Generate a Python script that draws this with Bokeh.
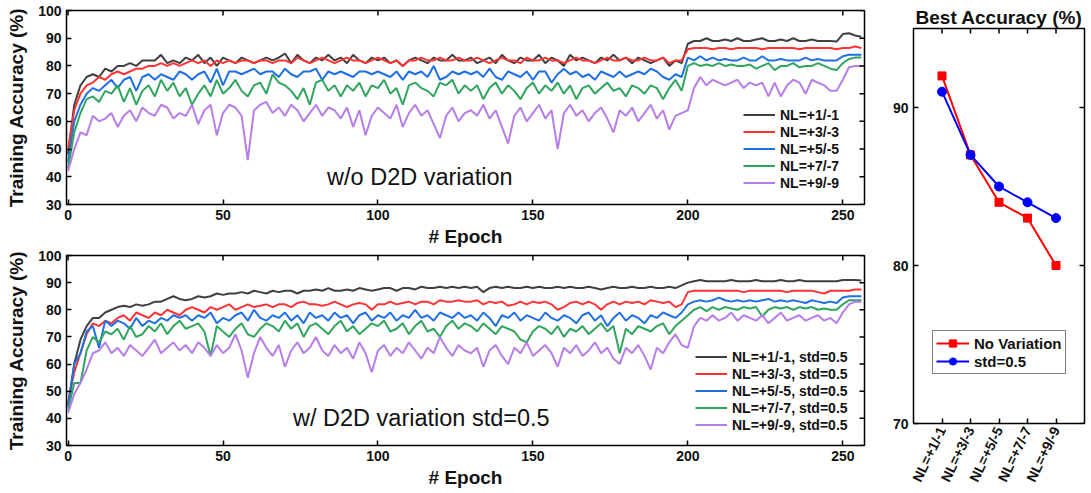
from bokeh.plotting import figure
from bokeh.models import Label, Range1d
from bokeh.layouts import row, column
from bokeh.embed import file_html
from bokeh.resources import INLINE

# ---------------- data ----------------
EPOCHS = list(range(0, 257, 2))

# w/o D2D variation
T1 = [48, 66, 73, 76, 77, 76, 79, 78, 80, 80,
      81, 80, 82, 82, 82, 84, 81, 82, 81, 83,
      82, 84, 81, 83, 80, 83, 82, 81, 83, 82,
      81, 82, 83, 82, 83, 84.5, 81, 84, 82, 81,
      83, 82, 84, 82, 83, 81, 84, 82, 81, 83,
      82, 83, 81, 82, 80, 82, 83, 82, 81, 83,
      82, 82, 84, 82, 82, 83, 81, 82, 83, 81,
      84, 82, 81, 83, 82, 82, 84, 81, 83, 82,
      80, 84, 82, 83, 82, 81, 83, 82, 84, 82,
      83, 81, 83, 82, 81, 82, 83, 80, 82, 81,
      88, 89, 89, 90, 89, 89, 89.5, 89, 90, 89,
      89, 89.5, 90, 89, 89, 89.5, 89, 90, 89, 89,
      89.5, 89, 89, 89, 88.8, 91.5, 91.8, 91, 90.5]
T3 = [50, 64, 70, 73, 74, 76, 75, 77, 78, 77,
      78, 79, 79, 80, 80, 81, 80, 81, 80, 81,
      82, 81, 82, 80, 82, 81, 82, 81, 82, 82,
      81, 82, 82, 81, 82, 82, 81, 83, 82, 81,
      82, 83, 82, 81, 82, 83, 82, 82, 81, 82,
      83, 82, 81, 82, 80, 82, 82, 83, 82, 82,
      83, 82, 82, 83, 82, 82, 83, 82, 81, 82,
      83, 82, 82, 81, 83, 82, 82, 83, 82, 82,
      81, 82, 83, 82, 82, 81, 82, 83, 82, 82,
      83, 82, 82, 83, 82, 82, 83, 81, 82, 82,
      86, 86.5, 86.5, 86.5, 86, 86.5, 86.5, 86, 86.5, 86.5,
      86.5, 86.5, 86, 86.5, 86.5, 86.5, 86.5, 86.5, 86, 86.5,
      86.5, 86.5, 86.5, 86.5, 86, 86.5, 86.5, 87, 86.5]
T5 = [45, 60, 66, 70, 72, 71, 73, 75, 72, 75,
      76, 71, 76, 77, 75, 77, 76, 75, 78, 77,
      75, 77, 78, 74, 79, 73, 78, 78, 77, 78,
      79, 77, 78, 78, 76, 79, 77, 76, 78, 78,
      79, 75, 78, 77, 78, 77, 76, 78, 78, 77,
      78, 77, 76, 78, 75, 78, 77, 78, 76, 80,
      75, 76, 78, 77, 78, 77, 78, 76, 79, 76,
      75, 78, 77, 76, 78, 75, 78, 78, 74, 77,
      79, 77, 78, 76, 77, 75, 78, 77, 76, 78,
      76, 77, 78, 77, 79, 78, 76, 75, 77, 76,
      83, 82, 83.5, 82, 83, 82, 82.5, 82, 82, 83,
      82, 82, 83.5, 82, 82, 82.5, 82, 82, 82, 83,
      82, 82.5, 82, 82, 82, 83.5, 84, 84, 84]
T7 = [43, 56, 63, 68, 69, 67, 71, 70, 73, 67,
      72, 66, 71, 73, 69, 75, 71, 74, 69, 72,
      66, 70, 73, 69, 75, 70, 72, 75, 71, 69,
      73, 74, 70, 77, 74, 73, 71, 68, 72, 66,
      74, 75, 71, 73, 69, 73, 71, 74, 69, 73,
      72, 75, 70, 72, 66, 73, 74, 72, 71, 69,
      74, 73, 75, 70, 73, 71, 73, 68, 72, 74,
      70, 73, 71, 68, 72, 74, 70, 73, 71, 74,
      70, 73, 68, 72, 73, 70, 72, 74, 71, 72,
      69, 73, 72, 70, 73, 72, 68, 72, 75, 71,
      80, 81, 80, 80.5, 80, 81, 80, 80.5, 80, 80,
      80.5, 79, 80, 81, 78.5, 80, 80, 81, 79.5, 80,
      80, 81, 80, 79, 78.5, 81, 82.5, 83, 83]
T9 = [42, 50, 56, 55, 62, 60, 61, 63, 58, 62,
      64, 60, 65, 63, 62, 66, 65, 61, 63, 62,
      66, 59, 64, 66, 55, 63, 66, 65, 62, 46,
      64, 66, 67, 63, 65, 62, 66, 64, 60, 63,
      66, 62, 65, 64, 61, 65, 58, 64, 55, 62,
      65, 63, 61, 66, 58, 63, 66, 62, 64, 59,
      54, 62, 65, 60, 63, 64, 62, 66, 61, 64,
      58, 52, 62, 65, 60, 63, 66, 61, 64, 50,
      63, 66, 62, 64, 60, 63, 65, 61, 56, 64,
      62, 65, 60, 63, 66, 61, 64, 57, 62, 63,
      64, 72, 76, 73, 75, 74, 73, 74, 75, 72,
      74, 73, 74, 69, 74, 69, 73, 75, 74, 70,
      75, 74, 73, 71, 71, 75, 79.5, 80, 80]

# w/ D2D variation std=0.5
B1 = [45, 60, 69, 74, 77, 77, 79, 80, 81, 81.5,
      81, 82, 81.5, 82, 83, 83, 84, 85, 84, 83.5,
      84, 85, 84.5, 85, 86, 85.5, 86, 86, 86.5, 86,
      87, 86.5, 86, 87, 86.5, 87, 87, 86, 87, 87,
      87.5, 87, 88, 87, 87, 87.5, 87, 88, 87.5, 87,
      87.5, 88, 88, 87, 88, 88, 87.5, 88.5, 88, 88,
      88.5, 88, 88.5, 88, 88.5, 88, 88.5, 86.5, 88, 88.5,
      88, 88.5, 88, 88, 88.5, 88, 88.5, 88, 88, 88.5,
      88, 88.5, 88, 88, 88.5, 88, 87.5, 88, 88.5, 88,
      88, 88.5, 88, 88, 88.5, 88, 88, 88.5, 88, 89,
      90, 90.5, 91, 90.5, 90.5, 90.5, 90.5, 91, 90.5, 90.5,
      90.5, 91, 90.5, 90.5, 90.5, 91, 90.5, 90.5, 91, 90.5,
      90.5, 90.5, 90.5, 90.5, 90.5, 91, 91, 91, 90.8]
B3 = [46, 57, 64, 71, 75, 74, 76, 75, 77, 78,
      76, 79, 78, 77, 79, 78, 80, 79, 78, 80,
      81, 80, 79, 81, 80, 81, 82, 80, 81, 82,
      81, 81.5, 82, 81, 82, 82, 81, 82.5, 83, 82,
      82, 81.5, 82, 83, 82, 81, 82, 82.5, 82, 80,
      82, 82, 83, 82, 82.5, 83, 82, 83, 83, 82,
      83.5, 83, 83, 83.5, 83, 83, 83.5, 82, 83, 82.5,
      83, 81.5, 82, 83, 82, 83, 82.5, 83, 82, 80,
      81, 82.5, 83, 82, 83, 82, 80, 82, 83, 82,
      83, 82.5, 83, 82, 83.5, 83, 82.5, 83, 81, 82,
      86.5, 87, 87, 87, 87, 87, 87, 87, 87, 86.5,
      87, 87, 87, 87, 87, 87, 86.5, 87, 87, 87,
      87, 86.5, 86, 87, 87, 87, 87, 87.5, 87.5]
B5 = [44, 60, 64, 72, 74, 66, 76, 74, 76, 75,
      73, 77, 74, 76, 75, 77, 76, 78, 77, 78,
      76, 78, 77, 79, 75, 77, 76, 78, 79, 76,
      80, 77, 76, 78, 77, 79, 76, 78, 75, 79,
      77, 78, 76, 79, 77, 78, 75, 78, 79, 76,
      78, 77, 79, 76, 78, 77, 80, 77, 78, 76,
      79, 78, 77, 79, 77, 78, 76, 79, 77, 74,
      78, 77, 79, 76, 78, 77, 76, 79, 77, 76,
      78, 77, 75, 78, 79, 76, 78, 74, 77, 79,
      76, 78, 77, 75, 78, 77, 79, 78, 77, 79,
      82, 83, 83.5, 83, 83.5, 84.5, 83.5, 83, 83.5, 83,
      83.5, 83, 83.5, 84, 83, 83.5, 83, 83.5, 83, 82.5,
      83.5, 83, 82.5, 83, 82.5, 84.5, 85, 85, 85]
B7 = [43, 53, 53, 65, 70, 68, 72, 71, 73, 69,
      74, 70, 71, 74, 72, 75, 71, 74, 76, 73,
      74, 75, 72, 63, 74, 72, 70, 73, 75, 71,
      70, 73, 75, 74, 72, 76, 73, 75, 70, 74,
      75, 73, 71, 74, 76, 72, 74, 71, 73, 75,
      74, 76, 72, 73, 75, 71, 74, 76, 72, 73,
      70, 74, 76, 73, 75, 74, 72, 75, 73, 71,
      74, 73, 72, 69, 68, 72, 74, 73, 71, 74,
      70, 73, 72, 74, 71, 73, 75, 72, 74, 64,
      73, 71, 74, 73, 72, 74, 75, 71, 74, 76,
      78, 80, 81, 79.5, 81, 80, 81, 80.5, 80, 81,
      80.5, 81, 77.5, 80, 81, 80.5, 81, 80, 81, 80.5,
      81, 80, 80.5, 80, 80, 82, 83.5, 83.5, 83.5]
B9 = [42, 49, 53, 58, 64, 65, 68, 64, 66, 63,
      67, 65, 63, 66, 69, 64, 66, 68, 65, 67,
      64, 68, 66, 63, 67, 64, 66, 71, 65, 55,
      64, 70, 66, 63, 67, 59, 65, 68, 64, 66,
      70, 65, 63, 67, 64, 66, 62, 68, 64, 57,
      65, 67, 63, 66, 64, 68, 65, 62, 66, 64,
      70, 66, 63, 67, 65, 64, 66, 59, 65, 67,
      63, 60, 66, 64, 68, 63, 65, 67, 64, 59,
      66, 64, 67, 63, 65, 68, 64, 66, 62, 60,
      66, 64, 67, 63, 58, 66, 64, 68, 71, 67,
      66, 74, 77, 76, 78, 76, 77, 79, 76, 78,
      77, 76, 78, 75, 77, 79, 76, 77, 78, 76,
      77, 78, 76, 77, 75, 79, 82, 83, 83]

TOP_LABELS = ["NL=+1/-1", "NL=+3/-3", "NL=+5/-5", "NL=+7/-7", "NL=+9/-9"]
BOT_LABELS = ["NL=+1/-1, std=0.5", "NL=+3/-3, std=0.5", "NL=+5/-5, std=0.5",
              "NL=+7/-7, std=0.5", "NL=+9/-9, std=0.5"]

CATS = ["NL=+1/-1", "NL=+3/-3", "NL=+5/-5", "NL=+7/-7", "NL=+9/-9"]
BEST_NOVAR = [92, 87, 84, 83, 80]
BEST_STD05 = [91, 87, 85, 84, 83]

X_TICKS = [0, 50, 100, 150, 200, 250]
Y_TICKS = [30, 40, 50, 60, 70, 80, 90, 100]
BEST_Y_TICKS = [70, 80, 90]

COLORS = ["#404040", "#ff3333", "#1f6fe5", "#2fa55d", "#b77de8"]
FONT = "Liberation Sans"
TXT = "#111111"


def style_axis(ax, size="14px"):
    ax.major_label_text_font = FONT
    ax.major_label_text_font_style = "bold"
    ax.major_label_text_font_size = size
    ax.major_label_text_color = TXT
    ax.axis_line_color = None
    ax.major_tick_in = 5
    ax.major_tick_out = 0
    ax.major_tick_line_width = 1.5
    ax.major_tick_line_color = "black"
    ax.minor_tick_line_color = None
    ax.axis_label_text_font = FONT
    ax.axis_label_text_font_style = "bold"
    ax.axis_label_text_font_size = "19px"
    ax.axis_label_text_color = TXT


def mirror_ticks(p, xticks, yticks, xr, yr):
    # inward tick marks on the top and right edges of the frame (box style)
    p.ray(x=xticks, y=[yr.end] * len(xticks), length=5,
          angle=-90, angle_units="deg", length_units="screen",
          line_color="black", line_width=1.5)
    p.ray(x=[xr.end] * len(yticks), y=yticks, length=5,
          angle=180, angle_units="deg", length_units="screen",
          line_color="black", line_width=1.5)


def make_left(series, labels, annot, legend_xy, frame_h, top_border):
    xr = Range1d(-0.5, 257)
    yr = Range1d(30, 100)
    p = figure(x_range=xr, y_range=yr,
               frame_width=798, frame_height=frame_h,
               min_border_left=66, min_border_right=14,
               min_border_top=top_border, min_border_bottom=44,
               output_backend="svg", toolbar_location=None)
    p.grid.grid_line_color = None
    p.outline_line_color = "black"
    p.outline_line_width = 1.5
    p.background_fill_color = "white"
    p.border_fill_color = "white"
    for ys, lab, col in zip(series, labels, COLORS):
        p.line(EPOCHS, ys, line_color=col, line_width=2, legend_label=lab)
    p.xaxis.ticker = X_TICKS
    p.yaxis.ticker = Y_TICKS
    for ax in p.xaxis + p.yaxis:
        style_axis(ax)
    p.xaxis.axis_label = "# Epoch"
    p.yaxis.axis_label = "Training Accuracy (%)"
    p.xaxis.major_label_standoff = 5
    p.xaxis.axis_label_standoff = 3
    p.yaxis.major_label_standoff = 5
    p.yaxis.axis_label_standoff = 8
    mirror_ticks(p, X_TICKS, Y_TICKS, xr, yr)
    lg = p.legend[0]
    lg.location = legend_xy
    lg.padding = 0
    lg.margin = 0
    lg.spacing = 0
    lg.border_line_color = None
    lg.background_fill_alpha = 0
    lg.glyph_width = 32
    lg.glyph_height = 17
    lg.label_height = 17
    lg.label_standoff = 5
    lg.label_text_font = FONT
    lg.label_text_font_style = "bold"
    lg.label_text_font_size = "14px"
    lg.label_text_color = TXT
    p.add_layout(Label(x=annot[1], y=annot[2], text=annot[0], text_align="center",
                       text_baseline="middle", text_font=FONT,
                       text_font_size=annot[3], text_color=TXT))
    return p


top = make_left([T1, T3, T5, T7, T9], TOP_LABELS,
                ("w/o D2D variation", 113.5, 40, "23.5px"), (677, 13), 194, 10)
bot = make_left([B1, B3, B5, B7, B9], BOT_LABELS,
                ("w/ D2D variation std=0.5", 114, 40, "23.5px"), (629, 12), 190, 6)

# ---------------- right panel ----------------
xs = [i + 1 for i in range(len(CATS))]
rxr = Range1d(0, 6)
ryr = Range1d(70, 95)
r = figure(x_range=rxr, y_range=ryr,
           frame_width=171, frame_height=395,
           min_border_left=35, min_border_right=2,
           min_border_top=28, min_border_bottom=62,
           output_backend="svg", toolbar_location=None)
r.grid.grid_line_color = None
r.outline_line_color = "black"
r.outline_line_width = 1.5
r.title.text = "Best Accuracy (%)"
r.title.align = "center"
r.title.text_font = FONT
r.title.text_font_style = "bold"
r.title.text_font_size = "19px"
r.title.text_color = TXT
r.title.standoff = 2
r.line(xs, BEST_NOVAR, line_color="#ff0000", line_width=2, legend_label="No Variation")
r.scatter(xs, BEST_NOVAR, marker="square", size=8, fill_color="#ff0000",
          line_color="#ff0000", legend_label="No Variation")
r.line(xs, BEST_STD05, line_color="#0000ff", line_width=2, legend_label="std=0.5")
r.scatter(xs, BEST_STD05, marker="circle", size=9, fill_color="#0000ff",
          line_color="#0000ff", legend_label="std=0.5")
r.xaxis.ticker = xs
r.xaxis.major_label_overrides = {x: c for x, c in zip(xs, CATS)}
r.xaxis.major_label_orientation = 1.12
r.yaxis.ticker = BEST_Y_TICKS
for ax in r.xaxis + r.yaxis:
    style_axis(ax)
r.xaxis.major_label_text_font_size = "14px"
r.xaxis.major_label_standoff = 4
mirror_ticks(r, xs, BEST_Y_TICKS, rxr, ryr)
lg = r.legend[0]
lg.location = (19, 49)
lg.padding = 3
lg.margin = 0
lg.spacing = 0
lg.border_line_color = "black"
lg.border_line_width = 1
lg.background_fill_color = "white"
lg.background_fill_alpha = 1
lg.glyph_width = 33
lg.glyph_height = 18
lg.label_height = 18
lg.label_standoff = 5
lg.label_text_font = FONT
lg.label_text_font_style = "bold"
lg.label_text_font_size = "15px"
lg.label_text_color = TXT

layout = row(column(top, bot, spacing=0), r, spacing=0)
open("out.html", "w").write(file_html(layout, INLINE))
